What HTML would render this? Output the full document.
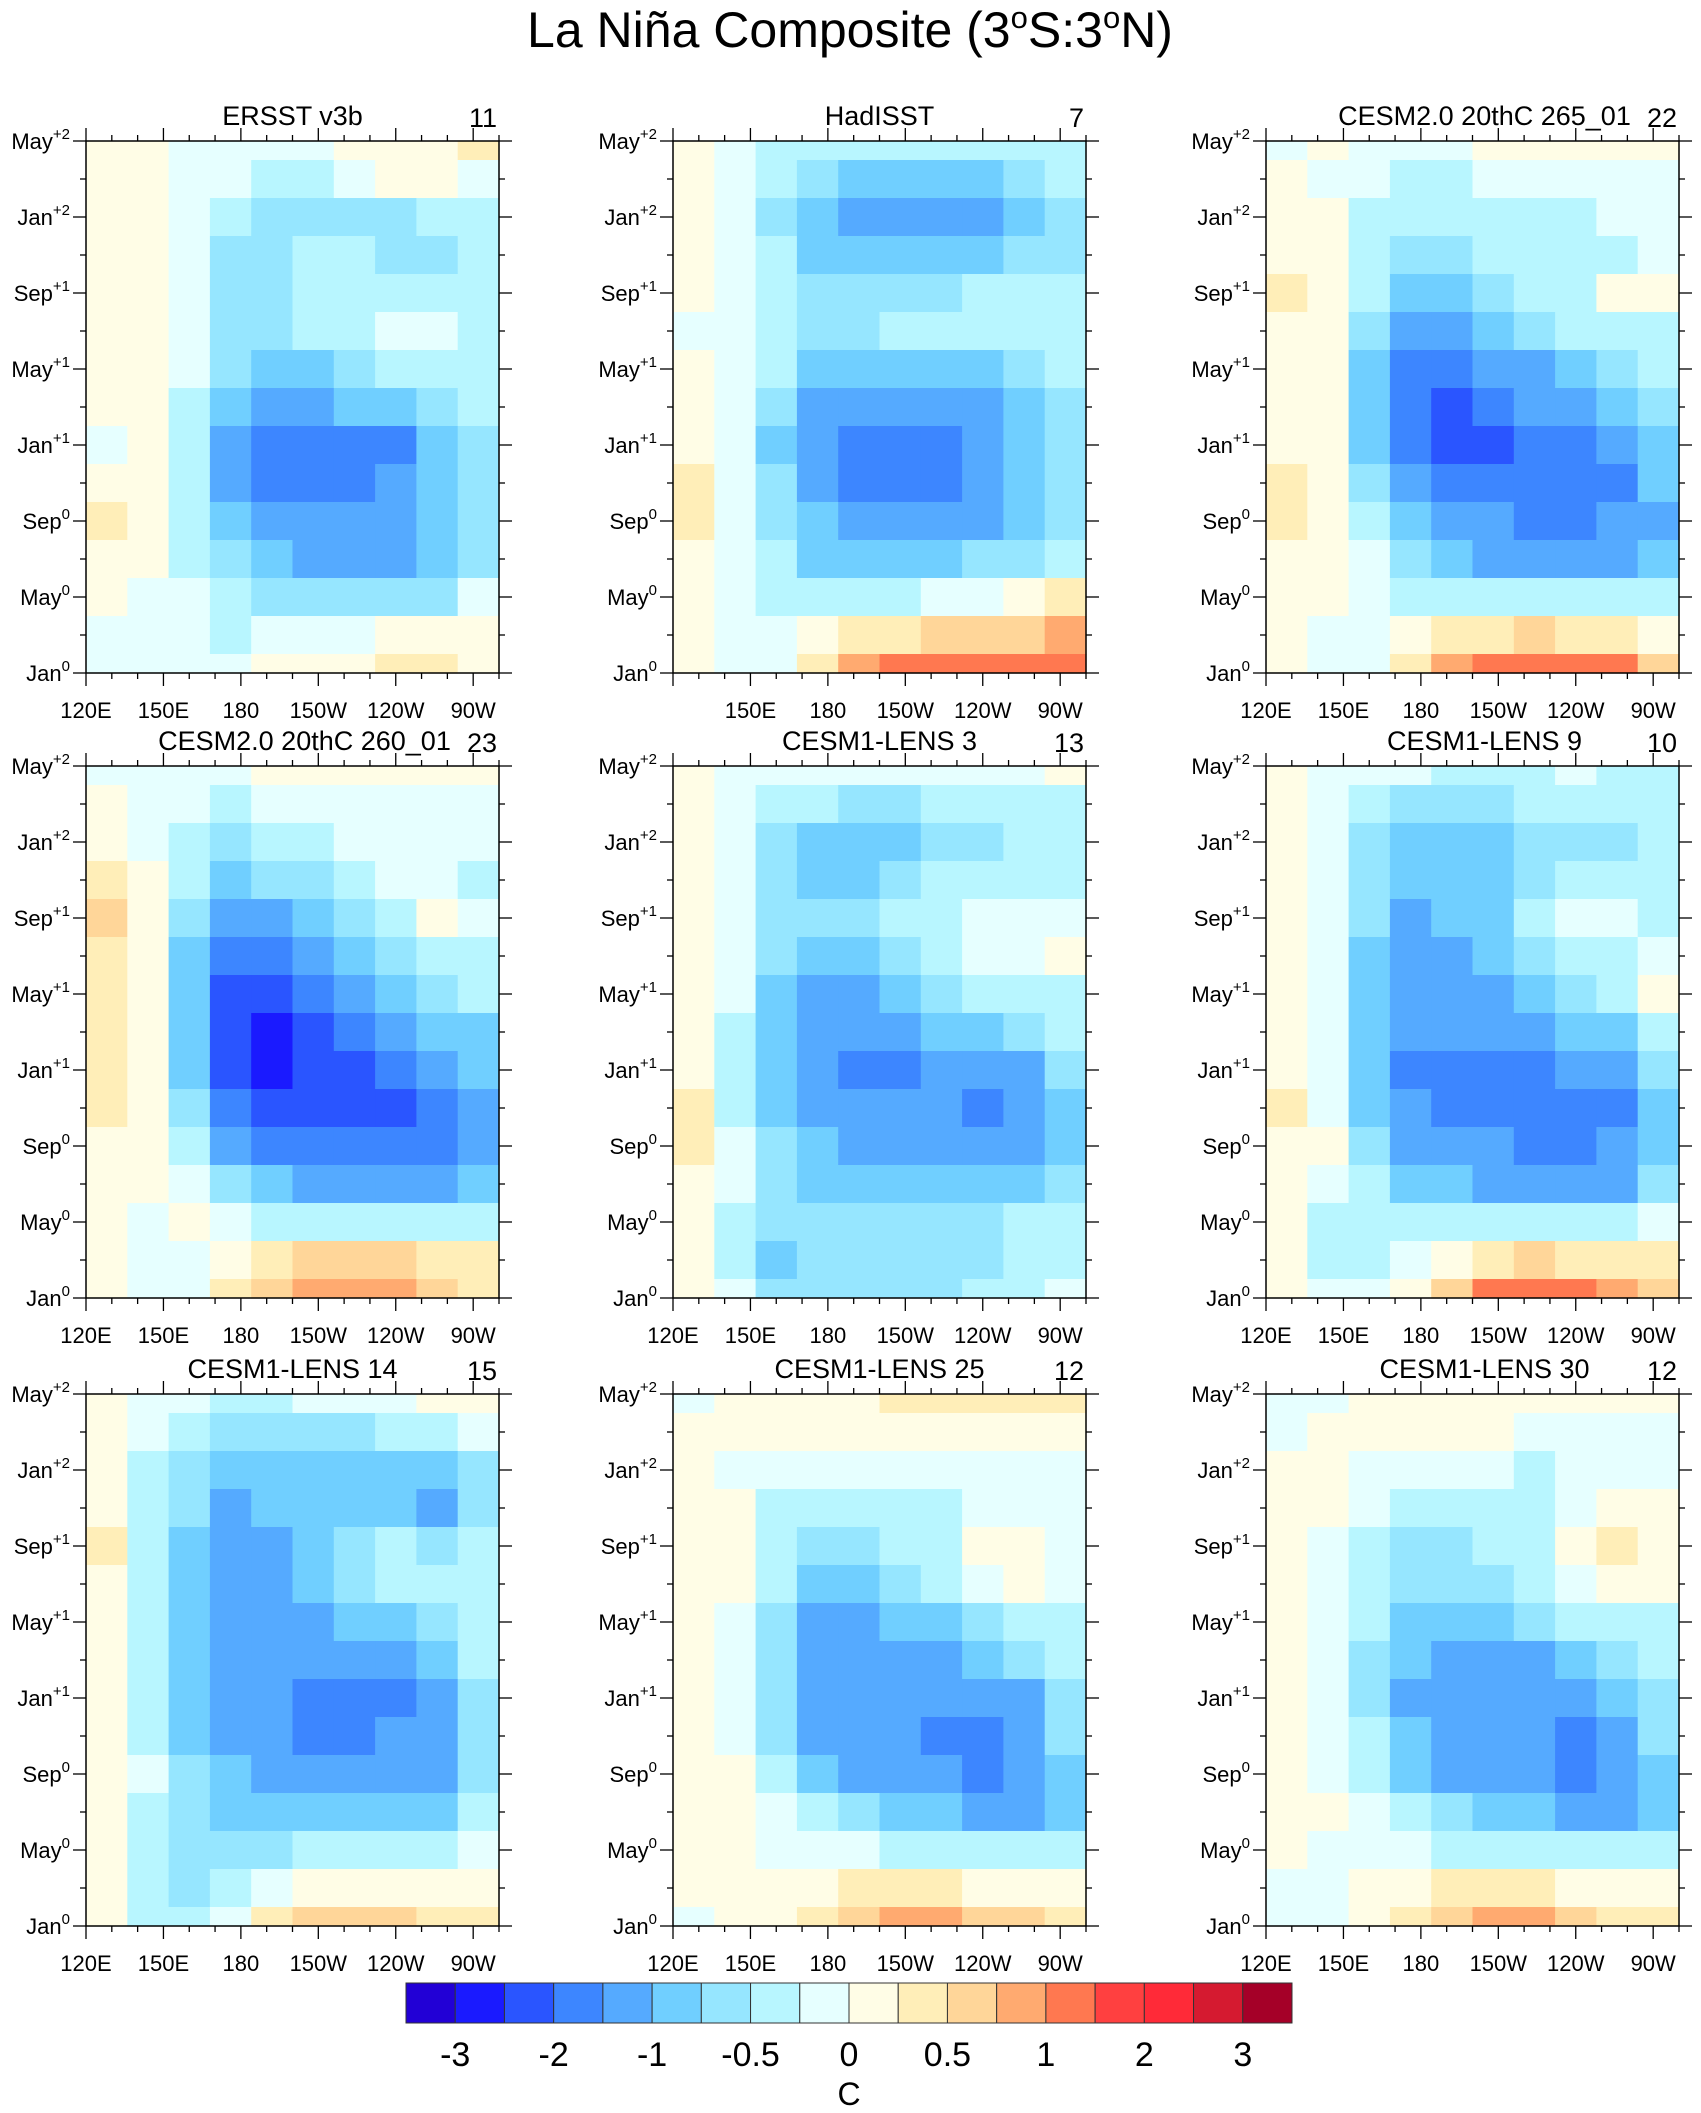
<!DOCTYPE html>
<html><head><meta charset="utf-8"><style>
html,body{margin:0;padding:0;background:#fff;}
svg{display:block;font-family:"Liberation Sans",Arial,sans-serif;}
</style></head><body>
<svg id="fig" width="1701" height="2113" viewBox="0 0 1701 2113">
<text x="850" y="47" font-size="50" text-anchor="middle">La Niña Composite (3<tspan dy="-19" font-size="31">o</tspan><tspan dy="19">S:3</tspan><tspan dy="-19" font-size="31">o</tspan><tspan dy="19">N)</tspan></text>
</svg>
<script>
// ---- chart data ----
const levels=[-3,-2.5,-2,-1.5,-1,-0.75,-0.5,-0.25,0,0.25,0.5,0.75,1,1.5,2,2.5,3];
const colors=["#2200d6","#1a1aff","#2a55ff","#3d86ff","#55aaff","#70cfff","#96e6ff","#b8f6ff","#e6ffff","#fffde6","#ffeeb8","#ffd699","#ffaa70","#ff7850","#ff4040","#ff2a38","#d51a30","#a50028"];
const cbLabels=["-3","-2","-1","-0.5","0","0.5","1","2","3"];
const titles=["ERSST v3b","HadISST","CESM2.0 20thC 265_01","CESM2.0 20thC 260_01","CESM1-LENS 3","CESM1-LENS 9","CESM1-LENS 14","CESM1-LENS 25","CESM1-LENS 30"];
const counts=["11","7","22","23","13","10","15","12","12"];
const monthLabels=[["Jan","0"],["May","0"],["Sep","0"],["Jan","+1"],["May","+1"],["Sep","+1"],["Jan","+2"],["May","+2"]];
const lonTicks=[120,150,180,210,240,270];
const lonLabels=["120E","150E","180","150W","120W","90W"];
// rows: top (May+2, t=28) to bottom (Jan0, t=0); columns: 120E -> 80W
const P1=[
[0.1,0.1,-0.1,-0.1,-0.1,-0.1,0.1,0.1,0.1,0.3],
[0.1,0.1,-0.1,-0.2,-0.4,-0.4,-0.2,0.1,0.1,-0.1],
[0.1,0.1,-0.1,-0.4,-0.6,-0.7,-0.6,-0.6,-0.5,-0.4],
[0.1,0.1,-0.2,-0.6,-0.7,-0.5,-0.5,-0.6,-0.6,-0.5],
[0.1,0.1,-0.2,-0.6,-0.6,-0.4,-0.4,-0.4,-0.3,-0.5],
[0.1,0.1,-0.1,-0.6,-0.6,-0.5,-0.3,-0.2,-0.2,-0.5],
[0.1,0.1,-0.2,-0.6,-0.8,-0.8,-0.6,-0.4,-0.3,-0.5],
[0.1,0.1,-0.3,-0.8,-1.2,-1.2,-1.0,-0.8,-0.6,-0.5],
[-0.1,0.1,-0.4,-1.2,-1.7,-1.7,-1.7,-1.6,-0.8,-0.6],
[0.1,0.2,-0.4,-1.2,-1.6,-1.7,-1.7,-1.4,-0.8,-0.6],
[0.3,0.1,-0.3,-0.8,-1.2,-1.2,-1.2,-1.2,-0.8,-0.6],
[0.1,0.1,-0.3,-0.7,-1.0,-1.2,-1.2,-1.1,-0.8,-0.6],
[0.1,-0.1,-0.2,-0.4,-0.6,-0.7,-0.7,-0.6,-0.6,-0.2],
[-0.1,-0.1,-0.1,-0.3,-0.2,-0.2,-0.2,0.1,0.1,0.1],
[-0.1,-0.1,-0.1,-0.1,0.1,0.2,0.2,0.3,0.4,0.2]];
const P2=[
[0.1,-0.1,-0.3,-0.4,-0.5,-0.5,-0.5,-0.5,-0.5,-0.4],
[0.1,-0.1,-0.4,-0.7,-0.8,-0.8,-0.8,-0.8,-0.6,-0.5],
[0.1,-0.2,-0.6,-1.0,-1.2,-1.1,-1.1,-1.1,-0.8,-0.6],
[0.1,-0.1,-0.5,-0.8,-0.8,-0.8,-0.8,-0.8,-0.7,-0.6],
[0.1,-0.1,-0.3,-0.6,-0.6,-0.6,-0.6,-0.5,-0.5,-0.5],
[-0.1,-0.1,-0.3,-0.6,-0.6,-0.5,-0.5,-0.5,-0.5,-0.5],
[0.1,-0.1,-0.5,-0.8,-0.8,-0.8,-0.8,-0.8,-0.6,-0.5],
[0.1,-0.2,-0.7,-1.1,-1.2,-1.2,-1.2,-1.1,-0.8,-0.6],
[0.1,-0.2,-0.8,-1.2,-1.7,-1.6,-1.7,-1.5,-1.0,-0.6],
[0.3,-0.2,-0.7,-1.2,-1.6,-1.6,-1.6,-1.4,-1.0,-0.6],
[0.3,-0.1,-0.6,-1.0,-1.2,-1.2,-1.2,-1.1,-0.9,-0.6],
[0.1,-0.1,-0.5,-0.8,-0.8,-0.8,-0.8,-0.7,-0.6,-0.4],
[0.1,-0.1,-0.3,-0.5,-0.4,-0.3,-0.2,-0.1,0.1,0.3],
[0.1,-0.1,-0.2,0.1,0.3,0.4,0.5,0.5,0.6,0.8],
[0.1,-0.1,-0.1,0.4,0.8,1.0,1.1,1.2,1.1,1.0]];
const P3=[
[-0.1,0.1,-0.1,-0.2,-0.1,0.1,0.1,0.1,0.2,0.1],
[0.1,-0.1,-0.2,-0.4,-0.4,-0.2,-0.2,-0.1,-0.1,-0.1],
[0.1,0.1,-0.3,-0.5,-0.5,-0.4,-0.3,-0.3,-0.2,-0.1],
[0.2,0.1,-0.4,-0.7,-0.7,-0.5,-0.4,-0.3,-0.3,-0.2],
[0.3,0.1,-0.5,-0.9,-0.9,-0.7,-0.5,-0.3,0.1,0.1],
[0.2,0.1,-0.7,-1.2,-1.2,-1.0,-0.7,-0.5,-0.4,-0.4],
[0.1,0.1,-0.8,-1.6,-1.7,-1.4,-1.1,-0.8,-0.6,-0.5],
[0.1,0.1,-0.9,-1.8,-2.1,-1.8,-1.5,-1.2,-1.0,-0.7],
[0.1,0.1,-0.8,-1.6,-2.1,-2.1,-1.9,-1.6,-1.2,-0.8],
[0.3,0.1,-0.7,-1.3,-1.8,-2.0,-2.0,-2.0,-1.6,-1.0],
[0.4,0.2,-0.3,-1.0,-1.3,-1.5,-1.7,-1.7,-1.5,-1.1],
[0.2,0.1,-0.2,-0.6,-0.9,-1.1,-1.2,-1.2,-1.1,-0.8],
[0.1,0.1,-0.1,-0.3,-0.4,-0.5,-0.5,-0.5,-0.4,-0.4],
[0.1,-0.1,-0.1,0.2,0.4,0.4,0.5,0.4,0.3,0.2],
[0.1,-0.1,-0.1,0.4,0.9,1.3,1.3,1.3,1.1,0.6]];
const P4=[
[-0.1,-0.1,-0.1,-0.1,0.1,0.1,0.1,0.1,0.1,0.1],
[0.1,-0.1,-0.2,-0.3,-0.2,-0.1,-0.1,-0.1,-0.1,-0.1],
[0.1,-0.1,-0.4,-0.6,-0.5,-0.3,-0.2,-0.2,-0.2,-0.2],
[0.3,0.1,-0.5,-0.8,-0.7,-0.6,-0.4,-0.2,-0.2,-0.3],
[0.5,0.1,-0.7,-1.2,-1.1,-0.8,-0.6,-0.4,0.1,-0.2],
[0.4,0.1,-0.8,-1.7,-1.6,-1.2,-0.8,-0.6,-0.4,-0.3],
[0.3,0.1,-0.8,-2.1,-2.1,-1.7,-1.3,-0.9,-0.7,-0.5],
[0.4,0.1,-0.8,-2.2,-2.6,-2.2,-1.8,-1.4,-1.0,-0.8],
[0.3,0.1,-0.8,-2.1,-2.6,-2.4,-2.1,-2.0,-1.4,-0.8],
[0.3,0.1,-0.6,-1.7,-2.1,-2.2,-2.2,-2.2,-2.0,-1.2],
[0.2,0.1,-0.3,-1.2,-1.6,-1.6,-1.7,-1.8,-1.7,-1.2],
[0.1,0.1,-0.1,-0.6,-1.0,-1.2,-1.2,-1.2,-1.2,-1.0],
[0.1,-0.1,0.1,-0.1,-0.3,-0.4,-0.4,-0.5,-0.5,-0.4],
[0.1,-0.2,-0.1,0.2,0.4,0.5,0.5,0.5,0.4,0.3],
[0.1,-0.2,-0.1,0.3,0.6,0.9,0.9,0.8,0.6,0.4]];
const P5=[
[0.1,-0.1,-0.1,-0.1,-0.1,-0.1,-0.1,-0.1,-0.1,0.1],
[0.1,-0.1,-0.3,-0.5,-0.6,-0.6,-0.5,-0.4,-0.3,-0.3],
[0.1,-0.2,-0.6,-0.9,-1.0,-0.9,-0.7,-0.6,-0.5,-0.4],
[0.1,-0.2,-0.6,-0.8,-0.8,-0.6,-0.5,-0.5,-0.4,-0.4],
[0.1,-0.2,-0.6,-0.7,-0.6,-0.5,-0.3,-0.1,-0.1,-0.2],
[0.1,-0.2,-0.7,-0.9,-0.8,-0.6,-0.4,-0.2,-0.1,0.1],
[0.1,-0.2,-0.8,-1.1,-1.1,-0.9,-0.7,-0.5,-0.3,-0.3],
[0.1,-0.3,-0.9,-1.2,-1.2,-1.2,-1.0,-0.8,-0.6,-0.5],
[0.1,-0.3,-0.9,-1.3,-1.6,-1.6,-1.5,-1.4,-1.1,-0.7],
[0.3,-0.3,-0.8,-1.2,-1.3,-1.4,-1.5,-1.6,-1.2,-0.8],
[0.3,-0.2,-0.7,-1.0,-1.2,-1.2,-1.2,-1.2,-1.1,-0.8],
[0.1,-0.2,-0.6,-0.8,-0.8,-0.9,-0.9,-1.0,-0.9,-0.6],
[0.1,-0.3,-0.6,-0.6,-0.6,-0.6,-0.6,-0.6,-0.5,-0.4],
[0.1,-0.3,-0.8,-0.6,-0.6,-0.6,-0.6,-0.6,-0.5,-0.3],
[0.1,-0.2,-0.7,-0.6,-0.6,-0.6,-0.6,-0.5,-0.4,-0.1]];
const P6=[
[0.1,-0.1,-0.1,-0.2,-0.3,-0.3,-0.3,-0.2,-0.3,-0.3],
[0.1,-0.1,-0.4,-0.6,-0.7,-0.6,-0.5,-0.5,-0.5,-0.4],
[0.1,-0.2,-0.6,-0.9,-0.9,-0.8,-0.7,-0.7,-0.6,-0.5],
[0.1,-0.2,-0.6,-1.0,-1.0,-0.8,-0.6,-0.5,-0.5,-0.5],
[0.2,-0.2,-0.7,-1.1,-1.0,-0.8,-0.5,-0.2,-0.2,-0.3],
[0.1,-0.2,-0.8,-1.2,-1.1,-0.9,-0.7,-0.4,-0.3,-0.2],
[0.2,-0.2,-0.9,-1.2,-1.2,-1.1,-0.9,-0.7,-0.5,0.1],
[0.1,-0.2,-1.0,-1.3,-1.3,-1.3,-1.2,-1.0,-0.8,-0.5],
[0.1,-0.2,-0.9,-1.6,-1.6,-1.6,-1.6,-1.5,-1.2,-0.7],
[0.3,-0.1,-0.8,-1.5,-1.6,-1.6,-1.7,-2.0,-1.6,-0.8],
[0.2,0.1,-0.6,-1.2,-1.3,-1.4,-1.6,-1.7,-1.4,-0.8],
[0.1,-0.1,-0.4,-0.8,-1.0,-1.1,-1.2,-1.2,-1.1,-0.6],
[0.1,-0.3,-0.5,-0.5,-0.4,-0.4,-0.4,-0.4,-0.3,-0.2],
[0.1,-0.4,-0.5,-0.2,0.2,0.4,0.5,0.4,0.4,0.3],
[0.1,-0.2,-0.2,0.1,0.6,1.2,1.3,1.2,0.8,0.6]];
const P7=[
[0.1,-0.1,-0.2,-0.4,-0.3,-0.2,-0.1,-0.1,0.1,0.2],
[0.2,-0.2,-0.5,-0.6,-0.6,-0.6,-0.6,-0.5,-0.4,-0.2],
[0.2,-0.3,-0.6,-0.8,-0.9,-0.8,-0.8,-0.9,-0.8,-0.6],
[0.2,-0.3,-0.7,-1.1,-1.0,-0.8,-0.8,-1.0,-1.2,-0.6],
[0.3,-0.4,-0.8,-1.2,-1.1,-0.8,-0.6,-0.5,-0.6,-0.5],
[0.2,-0.4,-0.8,-1.2,-1.2,-1.0,-0.7,-0.5,-0.4,-0.3],
[0.2,-0.4,-0.9,-1.3,-1.3,-1.2,-1.0,-0.8,-0.6,-0.4],
[0.1,-0.4,-1.0,-1.3,-1.3,-1.3,-1.2,-1.1,-0.8,-0.5],
[0.1,-0.4,-0.9,-1.3,-1.4,-1.7,-1.7,-1.6,-1.2,-0.6],
[0.2,-0.3,-0.8,-1.2,-1.3,-1.6,-1.6,-1.5,-1.2,-0.6],
[0.2,-0.2,-0.6,-1.0,-1.2,-1.2,-1.2,-1.2,-1.1,-0.6],
[0.1,-0.3,-0.6,-0.8,-0.9,-1.0,-1.0,-1.0,-0.9,-0.5],
[0.1,-0.4,-0.7,-0.6,-0.6,-0.5,-0.5,-0.4,-0.3,-0.2],
[0.1,-0.4,-0.6,-0.4,-0.2,0.1,0.2,0.2,0.1,0.1],
[0.1,-0.3,-0.4,-0.2,0.3,0.6,0.6,0.5,0.4,0.3]];
const P8=[
[-0.1,0.1,0.1,0.2,0.2,0.3,0.3,0.3,0.3,0.3],
[0.1,0.1,0.1,0.1,0.1,0.1,0.1,0.2,0.2,0.1],
[0.1,-0.1,-0.2,-0.2,-0.2,-0.2,-0.1,-0.1,-0.1,-0.1],
[0.2,0.1,-0.3,-0.5,-0.5,-0.4,-0.3,-0.1,-0.1,-0.1],
[0.2,0.1,-0.4,-0.6,-0.6,-0.5,-0.3,0.2,0.2,-0.1],
[0.2,0.1,-0.5,-0.8,-0.8,-0.7,-0.5,-0.2,0.1,-0.1],
[0.1,-0.1,-0.6,-1.1,-1.1,-1.0,-0.8,-0.6,-0.4,-0.3],
[0.1,-0.1,-0.7,-1.2,-1.3,-1.2,-1.1,-0.9,-0.7,-0.5],
[0.2,-0.1,-0.7,-1.2,-1.5,-1.5,-1.3,-1.3,-1.1,-0.7],
[0.1,-0.1,-0.6,-1.1,-1.3,-1.4,-1.6,-1.9,-1.3,-0.7],
[0.2,0.1,-0.4,-0.8,-1.1,-1.2,-1.3,-1.6,-1.3,-0.8],
[0.1,0.1,-0.2,-0.4,-0.7,-0.8,-1.0,-1.1,-1.1,-0.8],
[0.1,0.1,-0.1,-0.1,-0.2,-0.3,-0.3,-0.4,-0.4,-0.4],
[0.1,0.1,0.1,0.2,0.3,0.3,0.3,0.2,0.2,0.1],
[-0.1,0.1,0.1,0.3,0.6,0.8,0.8,0.7,0.5,0.3]];
const P9=[
[-0.1,-0.1,0.1,0.2,0.2,0.2,0.2,0.1,0.1,0.1],
[-0.1,0.1,0.1,0.1,0.1,0.1,-0.1,-0.1,-0.1,-0.1],
[0.1,0.1,-0.1,-0.2,-0.2,-0.2,-0.3,-0.2,-0.1,-0.1],
[0.1,0.1,-0.2,-0.5,-0.5,-0.4,-0.3,-0.1,0.1,0.1],
[0.1,-0.1,-0.3,-0.6,-0.6,-0.5,-0.3,0.2,0.3,0.2],
[0.1,-0.1,-0.4,-0.7,-0.7,-0.6,-0.5,-0.1,0.1,0.1],
[0.1,-0.1,-0.5,-0.8,-0.9,-0.8,-0.6,-0.5,-0.3,-0.3],
[0.1,-0.1,-0.6,-1.0,-1.2,-1.2,-1.1,-0.9,-0.6,-0.5],
[0.1,-0.1,-0.6,-1.1,-1.4,-1.5,-1.4,-1.3,-1.0,-0.6],
[0.1,-0.1,-0.5,-1.0,-1.3,-1.4,-1.5,-1.8,-1.4,-0.7],
[0.1,-0.1,-0.4,-0.8,-1.1,-1.2,-1.2,-1.6,-1.4,-0.8],
[0.1,0.1,-0.2,-0.5,-0.7,-0.9,-1.0,-1.1,-1.1,-0.8],
[0.1,-0.1,-0.1,-0.2,-0.3,-0.4,-0.5,-0.5,-0.5,-0.4],
[-0.1,-0.1,0.1,0.2,0.3,0.3,0.3,0.2,0.2,0.1],
[-0.1,-0.1,0.1,0.3,0.6,0.8,0.8,0.6,0.4,0.3]];
const panels=[P1,P2,P3,P4,P5,P6,P7,P8,P9];

// ---- layout ----
const NS="http://www.w3.org/2000/svg";
const svg=document.getElementById("fig");
const colX=[86,673,1266], rowY=[141,766,1394], W=413, H=532;
const LON0=120, LON1=280, TMAX=28;
function mk(tag,attrs,parent){const e=document.createElementNS(NS,tag);for(const k in attrs)e.setAttribute(k,attrs[k]);(parent||svg).appendChild(e);return e;}
function colorOf(v){let i=0;while(i<levels.length&&v>=levels[i])i++;return colors[i];}

panels.forEach((data,p)=>{
  const x0=colX[p%3], y0=rowY[Math.floor(p/3)];
  const xs=lon=>x0+(lon-LON0)/(LON1-LON0)*W;
  const ys=t=>y0+H-t/TMAX*H;
  const g=mk("g",{});
  
  
  const nR=data.length, nC=data[0].length, dLon=(LON1-LON0)/nC;
  data.forEach((row,r)=>{
    const t=(nR-1-r)*2;
    const ta=Math.min(TMAX,t+1), tb=Math.max(0,t-1);
    row.forEach((v,c)=>{
      const xa=xs(LON0+c*dLon), xb=xs(LON0+(c+1)*dLon);
      const rc=mk("rect",{x:xa.toFixed(2),y:ys(ta).toFixed(2),width:(xb-xa+0.6).toFixed(2),height:(ys(tb)-ys(ta)+0.6).toFixed(2),fill:colorOf(v)},g);
      
      
    });
  });
  const fr=mk("rect",{x:x0,y:y0,width:W,height:H,fill:"none",stroke:"#000","stroke-width":1.5},g);
  
  
  // x ticks
  for(let lon=LON0;lon<=LON1;lon+=10){
    const major=lonTicks.indexOf(lon)>=0, L=major?13:6, x=xs(lon);
    mk("line",{x1:x,y1:y0+H,x2:x,y2:y0+H+L,stroke:"#000","stroke-width":1.3},g);
    mk("line",{x1:x,y1:y0,x2:x,y2:y0-L,stroke:"#000","stroke-width":1.3},g);
  }
  lonTicks.forEach((lon,i)=>{
    if(p===1&&i===0)return;
    const tx=mk("text",{x:xs(lon),y:y0+H+45,"font-size":22,"text-anchor":"middle"},g);
    tx.textContent=lonLabels[i];
    
    
  });
  // y ticks
  for(let t=0;t<=TMAX;t+=2){
    const major=t%4===0, L=major?13:6, y=ys(t);
    mk("line",{x1:x0,y1:y,x2:x0-L,y2:y,stroke:"#000","stroke-width":1.3},g);
    mk("line",{x1:x0+W,y1:y,x2:x0+W+L,y2:y,stroke:"#000","stroke-width":1.3},g);
  }
  monthLabels.forEach((m,i)=>{
    const tx=mk("text",{x:x0-16,y:ys(i*4)+8,"font-size":22,"text-anchor":"end"},g);
    
    
    const a=document.createElementNS(NS,"tspan");a.textContent=m[0];tx.appendChild(a);
    const b=document.createElementNS(NS,"tspan");b.setAttribute("dy","-10");b.setAttribute("font-size","15");b.textContent=m[1];tx.appendChild(b);
  });
  const tt=mk("text",{x:x0+W/2+(p%3===2||p===3?12:0),y:y0-16,"font-size":27,"text-anchor":"middle"},g);
  tt.textContent=titles[p];
  
  
  const ct=mk("text",{x:x0+W-2,y:y0-14,"font-size":27,"text-anchor":"end"},g);
  ct.textContent=counts[p];
  
  
});

// ---- colorbar ----
const cbX=406, cbY=1983, cbW=886, cbH=40, bw=cbW/colors.length;
const cb=mk("g",{});


colors.forEach((c,i)=>{
  const r=mk("rect",{x:cbX+i*bw,y:cbY,width:bw,height:cbH,fill:c,stroke:"#333","stroke-width":1},cb);
  
  
});
cbLabels.forEach((l,i)=>{
  const tx=mk("text",{x:cbX+(1+2*i)*bw,y:cbY+83,"font-size":34,"text-anchor":"middle"},cb);
  tx.textContent=l;
  
  
});
const unit=mk("text",{x:cbX+9*bw,y:2105,"font-size":32,"text-anchor":"middle"},cb);
unit.textContent="C";


</script>
</body></html>
